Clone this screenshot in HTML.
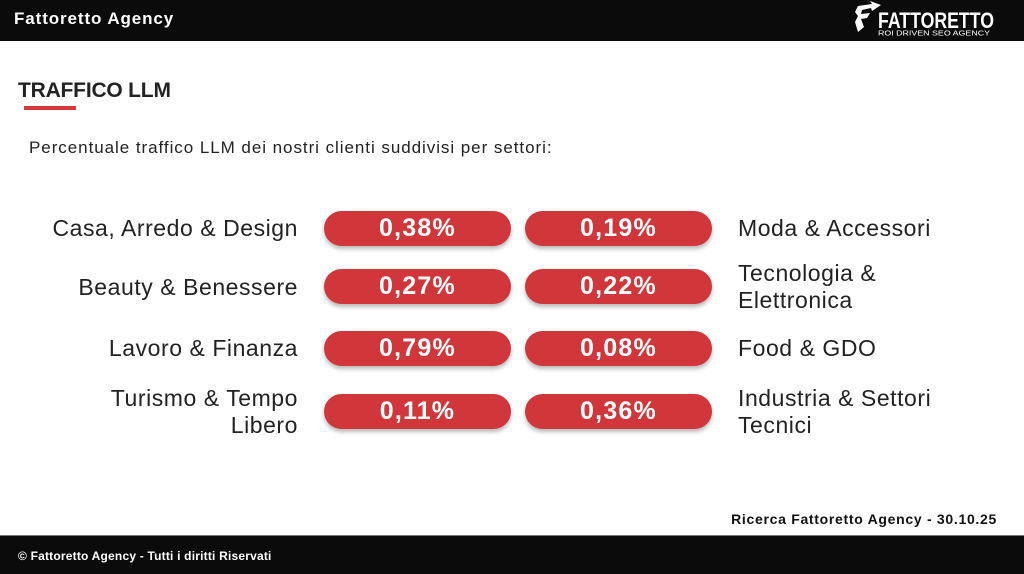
<!DOCTYPE html>
<html>
<head>
<meta charset="utf-8">
<style>
  html,body{margin:0;padding:0;}
  body{width:1024px;height:573px;position:relative;overflow:hidden;background:#fff;font-family:"Liberation Sans",sans-serif;color:#222;}
  .hdr{position:absolute;left:0;top:0;width:1024px;height:41px;background:#0b0b0b;}
  .hdr .t{position:absolute;left:14px;top:9px;font-size:17px;font-weight:bold;color:#fff;line-height:20px;letter-spacing:0.9px;}
  .ftr{position:absolute;left:0;top:535px;width:1024px;height:38px;background:#0b0b0b;border-top:1px solid #777;}
  .ftr .t{position:absolute;left:18px;top:13px;font-size:12px;font-weight:bold;color:#fff;line-height:14px;letter-spacing:0.2px;}
  .title{position:absolute;left:18px;top:79px;font-size:21px;font-weight:bold;color:#222;line-height:24px;letter-spacing:-0.2px;}
  .uline{position:absolute;left:24px;top:106px;width:52px;height:4px;background:#d9373f;}
  .sub{position:absolute;left:29px;top:138px;font-size:17px;color:#222;line-height:20px;letter-spacing:0.95px;white-space:nowrap;}
  .pill{position:absolute;width:187px;height:35px;border-radius:18px;background:#d1363a;box-shadow:0 3px 4px rgba(0,0,0,0.28);color:#fff;font-weight:bold;font-size:25px;letter-spacing:1.2px;text-align:center;line-height:35px;}
  .l{position:absolute;right:726px;font-size:23px;letter-spacing:0.55px;text-align:right;line-height:27px;color:#222;white-space:nowrap;}
  .r{position:absolute;left:738px;font-size:23px;letter-spacing:0.55px;text-align:left;line-height:27px;color:#222;white-space:nowrap;}
  .src{position:absolute;right:27px;top:511px;font-size:14px;font-weight:bold;color:#111;line-height:16px;letter-spacing:0.7px;}
</style>
</head>
<body>
  <div class="hdr">
    <div class="t">Fattoretto Agency</div>
    <svg style="position:absolute;left:850px;top:0" width="174" height="41" viewBox="850 0 174 41">
      <polygon points="858,6 872,4 870,1 881,5 872,11 871,8 862,10 861,14 870,13 867,18 861,19 864,27 858,32 855,22 858,16 855,12" fill="#fff"/>
      <text x="878" y="28" font-family="Liberation Sans, sans-serif" font-size="22" font-weight="bold" fill="#fff" textLength="116" lengthAdjust="spacingAndGlyphs">FATTORETTO</text>
      <text x="878" y="35.5" font-family="Liberation Sans, sans-serif" font-size="7.5" fill="#fff" textLength="112" lengthAdjust="spacingAndGlyphs">ROI DRIVEN SEO AGENCY</text>
    </svg>
  </div>

  <div class="title">TRAFFICO LLM</div>
  <div class="uline"></div>
  <div class="sub">Percentuale traffico LLM dei nostri clienti suddivisi per settori:</div>

  <div class="l" style="top:215px">Casa, Arredo &amp; Design</div>
  <div class="l" style="top:274px">Beauty &amp; Benessere</div>
  <div class="l" style="top:335px">Lavoro &amp; Finanza</div>
  <div class="l" style="top:385px">Turismo &amp; Tempo<br>Libero</div>

  <div class="pill" style="left:324px;top:211px">0,38%</div>
  <div class="pill" style="left:525px;top:211px">0,19%</div>
  <div class="pill" style="left:324px;top:269px">0,27%</div>
  <div class="pill" style="left:525px;top:269px">0,22%</div>
  <div class="pill" style="left:324px;top:331px">0,79%</div>
  <div class="pill" style="left:525px;top:331px">0,08%</div>
  <div class="pill" style="left:324px;top:394px">0,11%</div>
  <div class="pill" style="left:525px;top:394px">0,36%</div>

  <div class="r" style="top:215px">Moda &amp; Accessori</div>
  <div class="r" style="top:260px">Tecnologia &amp;<br>Elettronica</div>
  <div class="r" style="top:335px">Food &amp; GDO</div>
  <div class="r" style="top:385px">Industria &amp; Settori<br>Tecnici</div>

  <div class="src">Ricerca Fattoretto Agency - 30.10.25</div>

  <div class="ftr">
    <div class="t">© Fattoretto Agency - Tutti i diritti Riservati</div>
  </div>
</body>
</html>
